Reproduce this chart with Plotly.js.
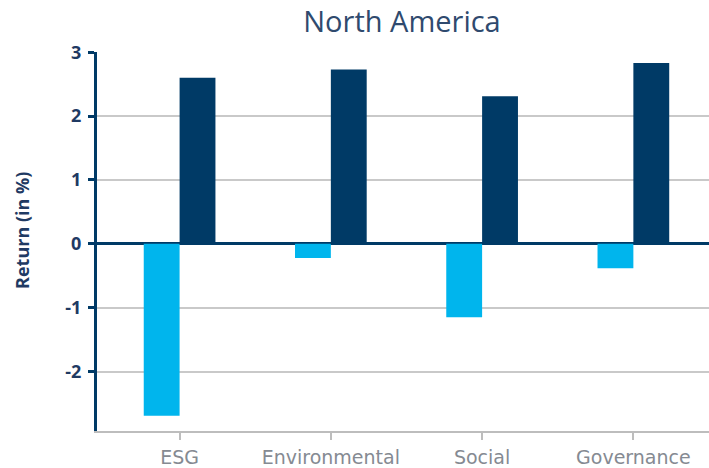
<!DOCTYPE html>
<html>
<head>
<meta charset="utf-8">
<script src="https://cdn.plot.ly/plotly-3.0.1.min.js"></script>
<style>
  html, body { margin: 0; padding: 0; background: #ffffff; }
  #chart { width: 709px; height: 468px; }
</style>
</head>
<body>
<div id="chart"></div>
<script>
const categories = ['ESG', 'Environmental', 'Social', 'Governance'];
const seriesLight = [-2.69, -0.22, -1.15, -0.38];
const seriesDark = [2.60, 2.73, 2.31, 2.83];
const yTickVals = [-2, -1, 0, 1, 2, 3];
const yTickText = ['-2', '-1', '0', '1', '2', '3'];
const yAxisTitle = 'Return (in %)';
const chartTitle = 'North America';

const navy = '#003a66';
const light = '#00b5ed';

const traces = [
  { type: 'bar', x: categories, y: seriesLight, marker: { color: light }, hoverinfo: 'skip' },
  { type: 'bar', x: categories, y: seriesDark, marker: { color: navy }, hoverinfo: 'skip' }
];

const layout = {
  width: 709, height: 468,
  margin: { l: 97, r: 0, t: 52, b: 36.5, pad: 0 },
  paper_bgcolor: '#ffffff', plot_bgcolor: '#ffffff',
  showlegend: false,
  barmode: 'group',
  bargap: 0.526,
  bargroupgap: 0,
  font: { family: 'Open Sans, sans-serif' },
  title: {
    text: chartTitle,
    font: { family: 'Open Sans, sans-serif', size: 29, color: '#2f4a6e' },
    x: 0.567, xanchor: 'center', y: 0.953, yanchor: 'middle'
  },
  xaxis: {
    type: 'category',
    range: [-0.546, 3.5],
    showline: true, linecolor: '#bdbdbd', linewidth: 2,
    ticks: 'outside', ticklen: 7, tickwidth: 2, tickcolor: '#bdbdbd',
    showgrid: false, zeroline: false,
    tickfont: { family: 'DejaVu Sans, sans-serif', size: 19, color: '#858a92' },
    ticklabelstandoff: 1,
    fixedrange: true
  },
  yaxis: {
    range: [-2.93, 3.004],
    tickvals: yTickVals, ticktext: yTickText,
    showline: true, linecolor: navy, linewidth: 3,
    ticks: 'outside', ticklen: 6, tickwidth: 3, tickcolor: navy,
    showgrid: true, gridcolor: '#c9c9c9', gridwidth: 2,
    zeroline: true, zerolinecolor: navy, zerolinewidth: 3,
    tickfont: { family: 'Open Sans, sans-serif', size: 18, color: '#1f3a63', weight: 'bold' },
    ticklabelstandoff: 3,
    fixedrange: true
  },
  annotations: [{
    text: '<b>' + yAxisTitle + '</b>',
    xref: 'paper', yref: 'paper',
    x: -0.1225, y: 0.528, xanchor: 'center', yanchor: 'middle',
    textangle: -90, showarrow: false,
    font: { family: 'Open Sans, sans-serif', size: 18, color: '#1f3a63' }
  }]
};

Plotly.newPlot('chart', traces, layout, { displayModeBar: false, staticPlot: true });
</script>
</body>
</html>
